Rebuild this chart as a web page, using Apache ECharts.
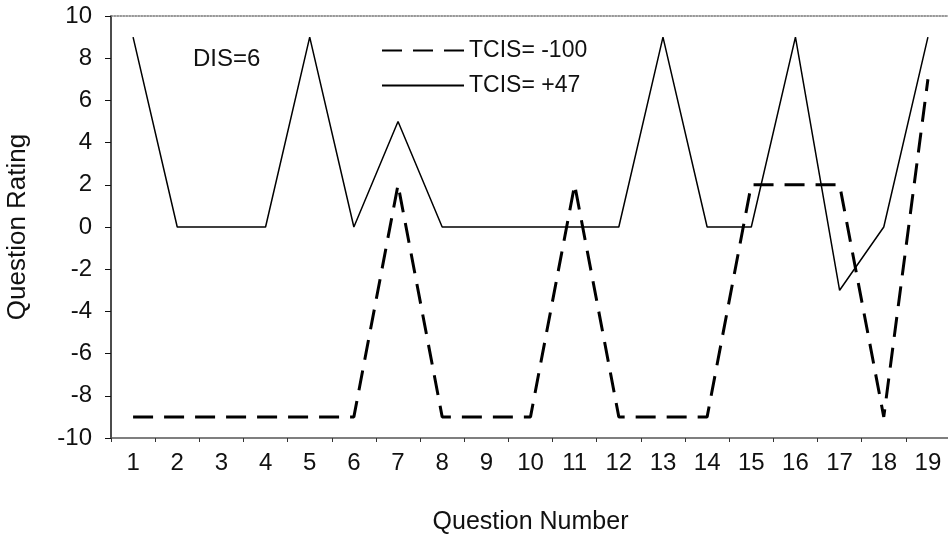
<!DOCTYPE html>
<html>
<head>
<meta charset="utf-8">
<script src="https://cdn.jsdelivr.net/npm/echarts@6/dist/echarts.min.js"></script>
<style>html,body{margin:0;padding:0;background:#fff}#c{width:948px;height:541px}</style>
</head>
<body>
<div id="c"></div>
<script>
var categories = ['1','2','3','4','5','6','7','8','9','10','11','12','13','14','15','16','17','18','19'];
var tcisNeg100 = [-9,-9,-9,-9,-9,-9,2,-9,-9,-9,2,-9,-9,-9,2,2,2,-9,7];
var tcisPos47 = [9,0,0,0,9,0,5,0,0,0,0,0,9,0,0,9,-3,0,9];
var yTicks = {min:-10, max:10, interval:2};
var FONT = 'Liberation Sans, Arial, sans-serif';

var chart = echarts.init(document.getElementById('c'), null, {renderer:'canvas'});
chart.setOption({
  animation:false,
  backgroundColor:'#fff',
  textStyle:{fontFamily:FONT},
  grid:{left:111, top:16, width:839, height:422, containLabel:false, outerBoundsMode:'none'},
  legend:{
    orient:'vertical', left:376, top:34, itemWidth:82, itemHeight:14, itemGap:12,
    itemStyle:{opacity:0},
    textStyle:{fontSize:23, color:'#111', fontFamily:FONT},
    data:['TCIS= -100','TCIS= +47']
  },
  graphic:[{type:'text', left:193, top:47, style:{text:'DIS=6', fontSize:24, fill:'#111', fontFamily:FONT}}],
  xAxis:[{
    type:'category', data:categories, boundaryGap:true,
    name:'Question Number', nameLocation:'middle', nameGap:72,
    nameTextStyle:{fontSize:25, color:'#111', fontFamily:FONT},
    axisLine:{onZero:false, lineStyle:{color:'#555', width:1.5}},
    axisTick:{show:true, length:4, alignWithLabel:false, lineStyle:{color:'#333'}},
    axisLabel:{fontSize:24, color:'#111', margin:13, fontFamily:FONT},
    splitLine:{show:false}
  },{
    type:'category', data:categories, position:'top',
    axisLine:{show:true, onZero:false, lineStyle:{color:'#777', type:'dotted', width:1.5}},
    axisTick:{show:false}, axisLabel:{show:false}, splitLine:{show:false}
  }],
  yAxis:{
    type:'value', min:yTicks.min, max:yTicks.max, interval:yTicks.interval,
    name:'Question Rating', nameLocation:'middle', nameGap:80, nameRotate:90,
    nameTextStyle:{fontSize:26, color:'#111', fontFamily:FONT},
    axisLine:{show:true, onZero:false, lineStyle:{color:'#111', width:1.5}},
    axisTick:{show:true, length:6, lineStyle:{color:'#111'}},
    axisLabel:{fontSize:24, color:'#111', margin:19, fontFamily:FONT},
    splitLine:{show:false}
  },
  series:[{
    name:'TCIS= -100', type:'line', data:tcisNeg100, symbol:'none',
    lineStyle:{color:'#000', width:3, type:[20,11]}, itemStyle:{color:'#000'}
  },{
    name:'TCIS= +47', type:'line', data:tcisPos47, symbol:'none',
    lineStyle:{color:'#000', width:1.5, type:'solid'}, itemStyle:{color:'#000'}
  }]
});
</script>
</body>
</html>
